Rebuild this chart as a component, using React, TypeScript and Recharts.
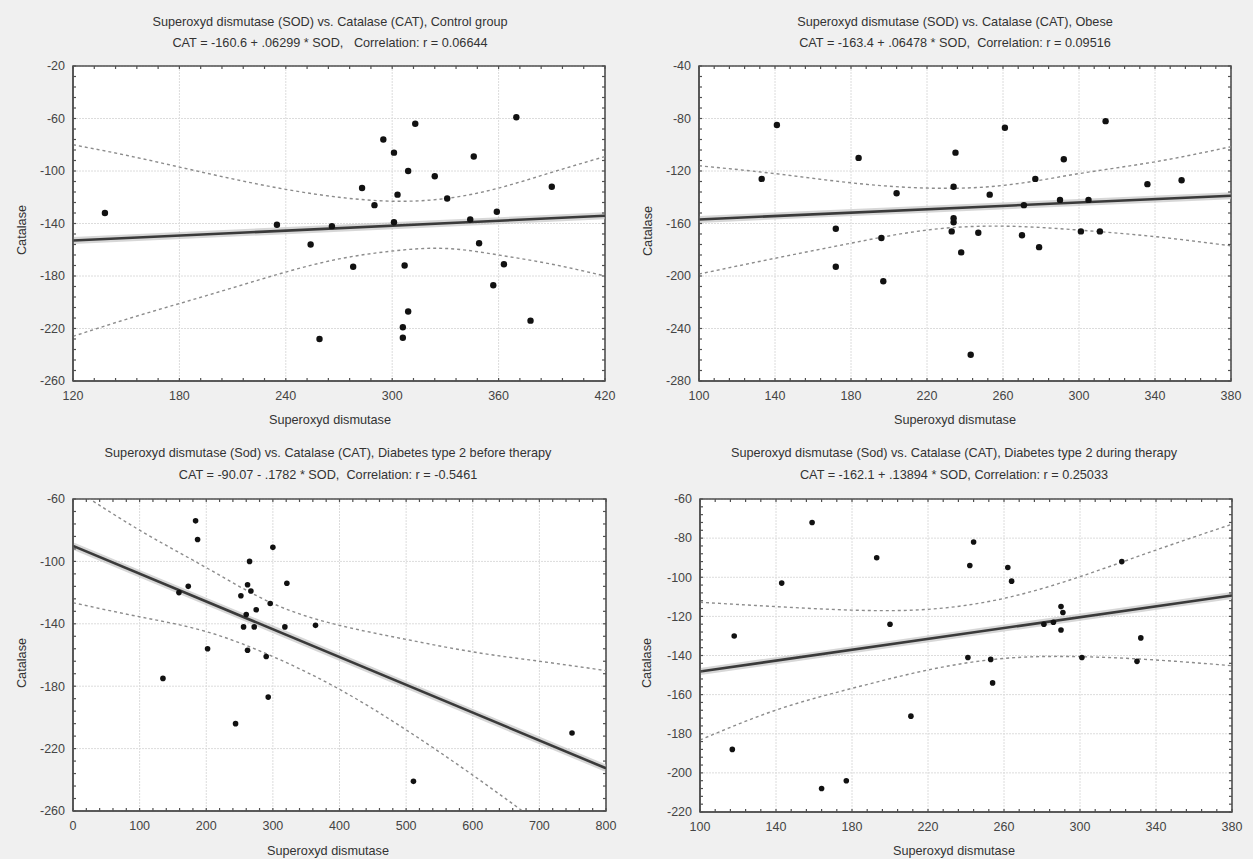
import React from 'react';
import { ComposedChart, XAxis, YAxis, CartesianGrid, Line, Scatter, ReferenceArea } from 'recharts';

const FONT = '"Liberation Sans", Arial, Helvetica, sans-serif';

// ---------- Panel 1: Control group ----------
const controlSod = [138, 235, 254, 259, 266, 278, 283, 290, 295, 301, 301, 303, 309, 307, 309, 306, 306, 313, 324, 331, 346, 344, 349, 359, 357, 363, 370, 378, 390];
const controlCat = [-132, -141, -156, -228, -142, -173, -113, -126, -76, -86, -139, -118, -100, -172, -207, -219, -227, -64, -104, -121, -89, -137, -155, -131, -187, -171, -59, -214, -112];
const controlFitX = [120, 420];
const controlFitY = [-153.0, -134.1];
const controlBandX = [120, 150, 180, 210, 240, 270, 300, 330, 360, 390, 420];
const controlUpper = [-80, -88, -97, -106, -114, -120, -123, -121, -113, -101, -89];
const controlLower = [-226, -213, -201, -189, -177, -167, -161, -159, -164, -171, -180];
const controlXTicks = [120, 180, 240, 300, 360, 420];
const controlYTicks = [-260, -220, -180, -140, -100, -60, -20];

// ---------- Panel 2: Obese ----------
const obeseSod = [133, 141, 172, 172, 184, 196, 197, 204, 233, 234, 234, 234, 235, 238, 243, 247, 253, 261, 270, 271, 277, 279, 290, 292, 301, 305, 311, 314, 336, 354];
const obeseCat = [-126, -85, -164, -193, -110, -171, -204, -137, -166, -159, -156, -132, -106, -182, -260, -167, -138, -87, -169, -146, -126, -178, -142, -111, -166, -142, -166, -82, -130, -127];
const obeseFitX = [100, 380];
const obeseFitY = [-156.9, -138.8];
const obeseBandX = [100, 140, 180, 220, 260, 300, 340, 380];
const obeseUpper = [-116, -122, -129, -133, -131, -122, -113, -101.5];
const obeseLower = [-198.5, -186.5, -175, -165, -162, -165, -170, -177];
const obeseXTicks = [100, 140, 180, 220, 260, 300, 340, 380];
const obeseYTicks = [-280, -240, -200, -160, -120, -80, -40];

// ---------- Panel 3: Diabetes type 2 before therapy ----------
const beforeSod = [135, 159, 173, 184, 187, 202, 244, 252, 256, 260, 262, 262, 265, 267, 272, 275, 290, 293, 296, 300, 318, 321, 364, 511, 749];
const beforeCat = [-175, -120, -116, -74, -86, -156, -204, -122, -142, -134, -115, -157, -100, -119, -142, -131, -161, -187, -127, -91, -142, -114, -141, -241, -210];
const beforeFitX = [0, 800];
const beforeFitY = [-90.07, -232.6];
const beforeBandX = [0, 100, 200, 300, 400, 500, 600, 700, 800];
const beforeUpper = [-53, -80, -104, -127, -141, -150, -158, -164, -170];
const beforeLower = [-126.5, -135.5, -145, -161, -182, -208, -237, -268, -300];
const beforeXTicks = [0, 100, 200, 300, 400, 500, 600, 700, 800];
const beforeYTicks = [-260, -220, -180, -140, -100, -60];

// ---------- Panel 4: Diabetes type 2 during therapy ----------
const duringSod = [117, 118, 143, 159, 164, 177, 193, 200, 211, 241, 242, 244, 253, 254, 262, 264, 281, 286, 290, 291, 290, 301, 322, 332, 330];
const duringCat = [-188, -130, -103, -72, -208, -204, -90, -124, -171, -141, -94, -82, -142, -154, -95, -102, -124, -123, -115, -118, -127, -141, -92, -131, -143];
const duringFitX = [100, 380];
const duringFitY = [-148.2, -109.3];
const duringBandX = [100, 140, 180, 220, 260, 300, 340, 380];
const duringUpper = [-112.8, -115, -116.8, -116.4, -110.8, -99.7, -86.1, -72.9];
const duringLower = [-183.2, -167.9, -156.8, -147.4, -141.5, -140.6, -142.3, -145.2];
const duringXTicks = [100, 140, 180, 220, 260, 300, 340, 380];
const duringYTicks = [-220, -200, -180, -160, -140, -120, -100, -80, -60];

type Pt = { x: number; y: number };
const zip = (xs: number[], ys: number[]): Pt[] => xs.map((x, i) => ({ x, y: ys[i] }));

const minorTicks = (major: number[], step: number) => {
  const out: number[] = [];
  const lo = major[0];
  const hi = major[major.length - 1];
  const n = Math.round((hi - lo) / step);
  for (let i = 0; i <= n; i++) out.push(Math.round((lo + i * step) * 1000) / 1000);
  return out;
};

type PanelCfg = {
  left: number; top: number; width: number; height: number;
  plot: { l: number; t: number; r: number; b: number };
  xTicks: number[]; yTicks: number[]; xStep: number; yStep: number;
  points: Pt[]; fit: Pt[]; upper: Pt[]; lower: Pt[];
  dotR: number;
  title1: string; title2: string; cx: number; t1y: number; t2y: number; xly: number; ylx: number; yly: number;
};

const YW = 60;
const XH = 40;
const AXIS = '#505050';
const TICK_FS = 12.5;

function Panel({ cfg }: { cfg: PanelCfg }) {
  const { width, height, plot } = cfg;
  const xDomain: [number, number] = [cfg.xTicks[0], cfg.xTicks[cfg.xTicks.length - 1]];
  const yDomain: [number, number] = [cfg.yTicks[0], cfg.yTicks[cfg.yTicks.length - 1]];
  const xMinor = minorTicks(cfg.xTicks, cfg.xStep);
  const yMinor = minorTicks(cfg.yTicks, cfg.yStep);
  const margin = { top: plot.t - 1, left: plot.l - YW, right: width - plot.r - 1, bottom: height - plot.b - XH };

  const xLabel = (p: any) => (
    <text x={p.x} y={plot.b + 19} textAnchor="middle" fontSize={TICK_FS} fill="#444" fontFamily={FONT}>
      {p.payload.value}
    </text>
  );
  const yLabel = (p: any) => (
    <text x={plot.l - 8} y={p.y + 4.3} textAnchor="end" fontSize={TICK_FS} fill="#444" fontFamily={FONT}>
      {p.payload.value}
    </text>
  );
  const xMinorTick = (p: any) => (
    <g>
      <line x1={p.x} x2={p.x} y1={plot.t} y2={plot.t + 3} stroke={AXIS} strokeWidth={1.2} />
      <line x1={p.x} x2={p.x} y1={plot.b} y2={plot.b - 3} stroke={AXIS} strokeWidth={1.2} />
    </g>
  );
  const yMinorTick = (p: any) => (
    <g>
      <line x1={plot.l} x2={plot.l + 3} y1={p.y} y2={p.y} stroke={AXIS} strokeWidth={1.2} />
      <line x1={plot.r} x2={plot.r - 3} y1={p.y} y2={p.y} stroke={AXIS} strokeWidth={1.2} />
    </g>
  );
  const dot = (p: any) => <circle cx={p.cx} cy={p.cy} r={cfg.dotR} fill="#111" />;

  return (
    <div style={{ position: 'absolute', left: cfg.left, top: cfg.top, width, height }}>
      <ComposedChart width={width} height={height} margin={margin}>
        <CartesianGrid fill="#ffffff" stroke="#dcdcdc" strokeDasharray="2 1" />
        <XAxis type="number" dataKey="x" domain={xDomain} ticks={cfg.xTicks} interval={0} height={XH}
          allowDataOverflow axisLine={{ stroke: AXIS, strokeWidth: 1.5 }} tickLine={false} tick={xLabel} />
        <YAxis type="number" dataKey="y" domain={yDomain} ticks={cfg.yTicks} interval={0} width={YW}
          allowDataOverflow axisLine={{ stroke: AXIS, strokeWidth: 1.5 }} tickLine={false} tick={yLabel} />
        <XAxis xAxisId="top" orientation="top" type="number" dataKey="x" domain={xDomain} ticks={xMinor} interval={0}
          height={1} allowDataOverflow axisLine={false} tickLine={false} tick={xMinorTick} />
        <YAxis yAxisId="right" orientation="right" type="number" dataKey="y" domain={yDomain} ticks={yMinor} interval={0}
          width={1} allowDataOverflow axisLine={false} tickLine={false} tick={yMinorTick} />
        <Line data={cfg.upper} dataKey="y" type="natural" stroke="#8c8c8c" strokeWidth={1.4} strokeDasharray="3 3"
          dot={false} activeDot={false} isAnimationActive={false} />
        <Line data={cfg.lower} dataKey="y" type="natural" stroke="#8c8c8c" strokeWidth={1.4} strokeDasharray="3 3"
          dot={false} activeDot={false} isAnimationActive={false} />
        <Line data={cfg.fit} dataKey="y" type="linear" stroke="#bdbdbd" strokeOpacity={0.6} strokeWidth={7}
          dot={false} activeDot={false} isAnimationActive={false} />
        <Line data={cfg.fit} dataKey="y" type="linear" stroke="#3a3a3a" strokeWidth={2.6}
          dot={false} activeDot={false} isAnimationActive={false} />
        <Scatter data={cfg.points} dataKey="y" shape={dot} isAnimationActive={false} />
        <ReferenceArea x1={xDomain[0]} x2={xDomain[1]} y1={yDomain[0]} y2={yDomain[1]} ifOverflow="visible"
          fill="none" fillOpacity={0} stroke={AXIS} strokeWidth={1.6} strokeOpacity={1} />
      </ComposedChart>
    </div>
  );
}

const panels: PanelCfg[] = [
  {
    left: 0, top: 0, width: 626, height: 430, plot: { l: 73, t: 66, r: 605, b: 381 },
    xTicks: controlXTicks, yTicks: controlYTicks, xStep: 12, yStep: 8,
    points: zip(controlSod, controlCat), fit: zip(controlFitX, controlFitY),
    upper: zip(controlBandX, controlUpper), lower: zip(controlBandX, controlLower), dotR: 3.2,
    title1: 'Superoxyd dismutase (SOD) vs. Catalase (CAT), Control group',
    title2: 'CAT = -160.6 + .06299 * SOD,\u00a0\u00a0\u00a0Correlation: r = 0.06644',
    cx: 330, t1y: 22, t2y: 43, xly: 420, ylx: 22, yly: 230,
  },
  {
    left: 626, top: 0, width: 627, height: 430, plot: { l: 73, t: 66, r: 605, b: 381 },
    xTicks: obeseXTicks, yTicks: obeseYTicks, xStep: 8, yStep: 8,
    points: zip(obeseSod, obeseCat), fit: zip(obeseFitX, obeseFitY),
    upper: zip(obeseBandX, obeseUpper), lower: zip(obeseBandX, obeseLower), dotR: 3.2,
    title1: 'Superoxyd dismutase (SOD) vs. Catalase (CAT), Obese',
    title2: 'CAT = -163.4 + .06478 * SOD,\u00a0\u00a0Correlation: r = 0.09516',
    cx: 955, t1y: 22, t2y: 43, xly: 420, ylx: 648, yly: 231,
  },
  {
    left: 0, top: 430, width: 626, height: 429, plot: { l: 73, t: 69, r: 606, b: 381 },
    xTicks: beforeXTicks, yTicks: beforeYTicks, xStep: 20, yStep: 8,
    points: zip(beforeSod, beforeCat), fit: zip(beforeFitX, beforeFitY),
    upper: zip(beforeBandX, beforeUpper), lower: zip(beforeBandX, beforeLower), dotR: 2.8,
    title1: 'Superoxyd dismutase (Sod) vs. Catalase (CAT), Diabetes type 2 before therapy',
    title2: 'CAT = -90.07 - .1782 * SOD,\u00a0\u00a0Correlation: r = -0.5461',
    cx: 328, t1y: 453, t2y: 475, xly: 851, ylx: 22, yly: 663,
  },
  {
    left: 626, top: 430, width: 627, height: 429, plot: { l: 74, t: 69, r: 606, b: 382 },
    xTicks: duringXTicks, yTicks: duringYTicks, xStep: 8, yStep: 4,
    points: zip(duringSod, duringCat), fit: zip(duringFitX, duringFitY),
    upper: zip(duringBandX, duringUpper), lower: zip(duringBandX, duringLower), dotR: 2.8,
    title1: 'Superoxyd dismutase (Sod) vs. Catalase (CAT), Diabetes type 2 during therapy',
    title2: 'CAT = -162.1 + .13894 * SOD, Correlation: r = 0.25033',
    cx: 954, t1y: 453, t2y: 475, xly: 851, ylx: 647, yly: 663,
  },
];

const textStyle = (cx: number, cy: number): React.CSSProperties => ({
  position: 'absolute', left: cx - 300, top: cy - 8, width: 600, height: 16, lineHeight: '16px',
  textAlign: 'center', fontSize: 12.7, color: '#333', fontFamily: FONT, whiteSpace: 'nowrap',
});

export default function App() {
  return (
    <div style={{ position: 'absolute', left: 0, top: 0, width: 1253, height: 859, background: '#f0f0f0', overflow: 'hidden', fontFamily: FONT }}>
      {panels.map((p, i) => (
        <React.Fragment key={i}>
          <Panel cfg={p} />
          <div style={textStyle(p.cx, p.t1y)}>{p.title1}</div>
          <div style={textStyle(p.cx, p.t2y)}>{p.title2}</div>
          <div style={textStyle(p.cx, p.xly)}>Superoxyd dismutase</div>
          <div style={{ ...textStyle(p.ylx, p.yly), transform: 'rotate(-90deg)' }}>Catalase</div>
        </React.Fragment>
      ))}
    </div>
  );
}
